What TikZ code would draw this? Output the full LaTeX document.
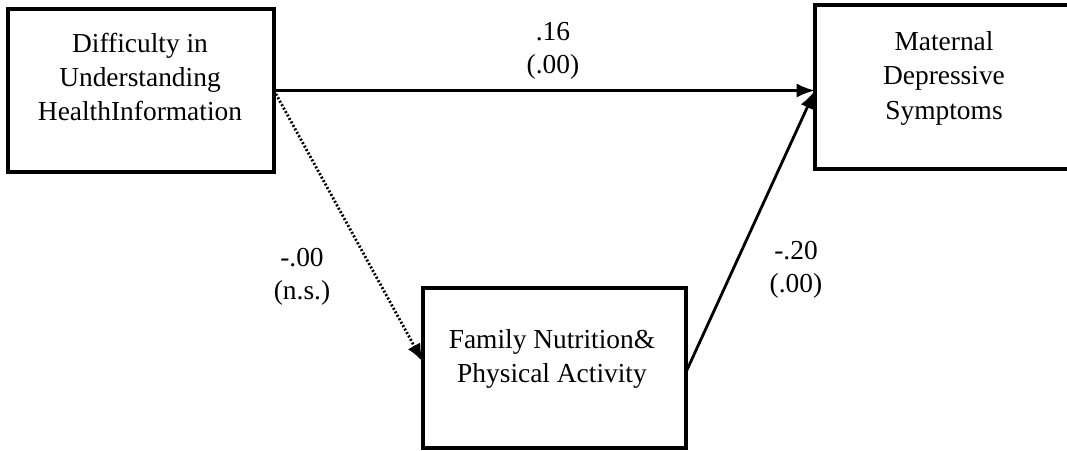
\documentclass[tikz,border=0pt]{standalone}
\usepackage{fontspec}
\setmainfont{Liberation Serif}
\usetikzlibrary{arrows.meta}

\tikzset{
  varbox/.style={draw, line width=2.2pt, inner sep=0pt, outer sep=0pt},
  vartext/.style={align=center, font=\fontsize{19.5pt}{24.5pt}\selectfont},
  coef/.style={align=center, font=\fontsize{19.5pt}{23.5pt}\selectfont},
  effect/.style={line width=2pt, -{Latex[length=13pt,width=10pt]}},
}

\begin{document}
\begin{tikzpicture}[x=0.025cm, y=-0.025cm]
            \useasboundingbox (0,0) rectangle (1067,451);
            % boxes
            \node[varbox, minimum width=6.65cm, minimum height=4.075cm] (diff) at (141, 90.5) {};
            \node[varbox, minimum width=6.45cm, minimum height=4.1cm] (mat) at (944, 87) {};
            \node[varbox, minimum width=6.575cm, minimum height=4cm] (fam) at (554.5, 368) {};
            \node[vartext] (diffTxt) at (140, 77) {Difficulty in\\Understanding\\HealthInformation};
            \node[vartext] (matTxt) at (944, 78) {Maternal\\Depressive\\Symptoms};
            \node[vartext] (famTxt) at (552, 359) {Family Nutrition\&\\Physical Activity};
            % paths
            \coordinate (matIn) at (diff.east -| mat.west);
            \draw[effect] (diff.east) -- (matIn);
            \draw[effect, dash pattern=on 1.4pt off 1.4pt] (diff.east) -- ([yshift=0.15cm]fam.west);
            \draw[effect] ([yshift=-0.1cm]fam.east) -- (matIn);
            % coefficients
            \node[coef] (dirCoef) at (553, 51) {.16\\(.00)};
            \node[coef] (aCoef) at (302, 277) {-.00\\(n.s.)};
            \node[coef] (bCoef) at (796, 270) {-.20\\(.00)};
        \end{tikzpicture}
\end{document}
